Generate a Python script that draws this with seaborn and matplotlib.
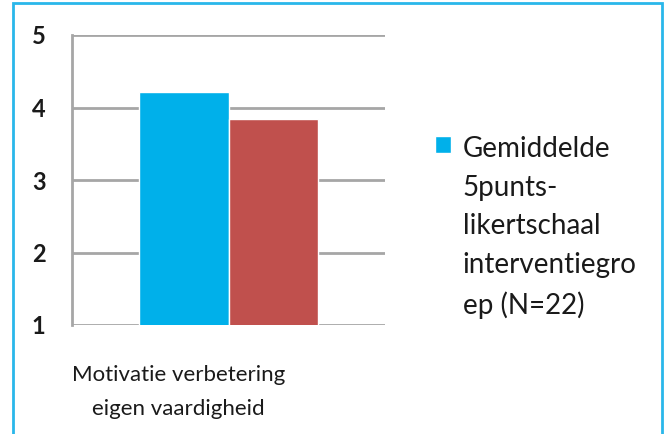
import matplotlib
matplotlib.use("Agg")
import matplotlib.pyplot as plt
import matplotlib.transforms as mtransforms
from matplotlib.patches import Rectangle
import pandas as pd
import seaborn as sns

# data
categories = ["Motivatie verbetering\neigen vaardigheid"]
groups = ["Gemiddelde 5punts-likertschaal interventiegroep (N=22)",
          "Gemiddelde 5punts-likertschaal tweede groep"]
values = [4.21, 3.84]
legend_label = "Gemiddelde\n5punts-\nlikertschaal\ninterventiegro\nep (N=22)"
colors = ["#00b0ea", "#c0504d"]
yticks = [1, 2, 3, 4, 5]

df = pd.DataFrame({"categorie": categories * len(groups),
                   "groep": groups,
                   "waarde": values})

sns.set_style("white")
plt.rcParams["font.family"] = ["Lato", "DejaVu Sans"]

fig = plt.figure(figsize=(6.69, 4.34), dpi=100)
ax = fig.add_axes([72 / 669, 1 - 325 / 434, 313 / 669, 290 / 434])

sns.barplot(data=df, x="categorie", y="waarde", hue="groep",
            palette=colors, width=0.57, saturation=1, ax=ax, legend=False)

ax.set_xlim(-0.5, 0.5)
ax.set_ylim(1, 5)
ax.set_yticks(yticks)
ax.set_xlabel("")
ax.set_ylabel("")
ax.grid(axis="y", color="#a6a6a6", linewidth=2, zorder=0)
ax.set_axisbelow(True)
for side in ["top", "right", "bottom"]:
    ax.spines[side].set_visible(False)
ax.spines["left"].set_color("#a6a6a6")
ax.spines["left"].set_linewidth(2)

ax.tick_params(axis="y", length=0, pad=19, labelsize=17, labelcolor="#1a1a1a")
for lab in ax.get_yticklabels():
    lab.set_fontweight("bold")
ax.tick_params(axis="x", length=0, pad=29, labelsize=16, labelcolor="#1a1a1a")
shift = mtransforms.ScaledTranslation(-50 / 100, 0, fig.dpi_scale_trans)
for lab in ax.get_xticklabels():
    lab.set_transform(lab.get_transform() + shift)
    lab.set_linespacing(1.85)

# legend shows only the first series
handle = ax.patches[0]
leg = fig.legend([handle], [legend_label], loc="upper left",
                 bbox_to_anchor=(435 / 669, 1 - 136 / 434), frameon=False,
                 fontsize=20, handlelength=0.58, handleheight=0.58,
                 handletextpad=0.42, labelspacing=0,
                 borderpad=0, borderaxespad=0)
for t in leg.get_texts():
    t.set_linespacing(1.6)
    t.set_color("#1a1a1a")
# put the square next to the first line of the label
for item in leg._legend_handle_box.get_children()[0].get_children():
    item.align = "top"

# light blue frame around the picture
fig.patches.append(Rectangle((12.5 / 669, -0.05), (662 - 12.5) / 669,
                             1.05 - 3.5 / 434, transform=fig.transFigure,
                             fill=False, edgecolor="#29b7ea", linewidth=2))

fig.savefig("out.png", dpi=100)
